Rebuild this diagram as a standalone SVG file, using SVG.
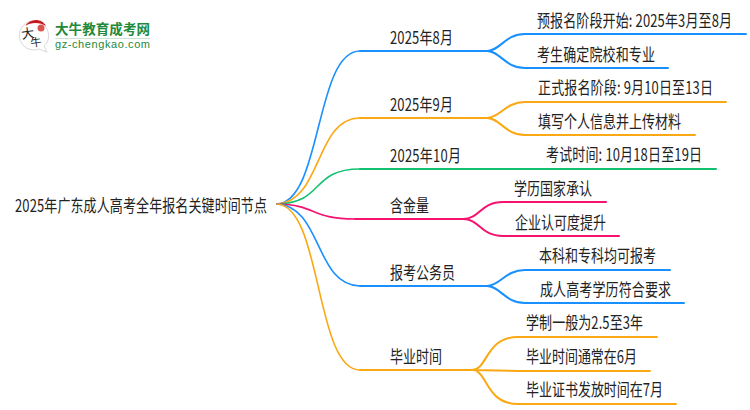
<svg xmlns="http://www.w3.org/2000/svg" width="750" height="410" viewBox="0 0 750 410">
<style>
text{font-family:"Noto Sans CJK SC","Liberation Sans",sans-serif;font-size:13px;fill:#222}
.c path{fill:none;stroke-width:2;stroke-linecap:round}
.r{stroke-width:1.6!important}
.b{stroke:#1890ff}.o{stroke:#faa814}.g{stroke:#12c170}.p{stroke:#f5136f}
</style>
<rect width="750" height="410" fill="#fff"/>
<g id="connectors" class="c">
<path class="b r" d="M277 204C322 202 315 51 360 51"/><path class="b" d="M360 51H487C500 51 505 34 525 34H746M487 51C500 51 505 68 525 68H668"/>
<path class="o r" d="M277 204C322 202 315 118 360 118"/><path class="o" d="M360 118H487C500 118 505 102 525 102H726M487 118C500 118 505 135 525 135H695"/>
<path class="g r" d="M277 204C325 203 310 169 360 169"/><path class="g" d="M360 169H520L716 169"/>
<path class="p r" d="M277 204C318 205 310 219 355 219"/><path class="p" d="M355 219H463C480 219 480 202 503 202H606M463 219C480 219 480 236 503 236H619"/>
<path class="b r" d="M277 204C322 206 315 286 360 286"/><path class="b" d="M360 286H487C500 286 505 270 525 270H670M487 286C500 286 505 303 525 303H684"/>
<path class="o r" d="M277 204C322 206 315 370 360 370"/><path class="o" d="M360 370H472C488 370 485 337 518 337H657M472 370L518 371H650M472 370C488 370 485 404 518 404H676"/>
</g>
<g id="logo">
<path d="M35 21A14.500 14.500 0 1 0 39 49L47 52L44 46A14.500 14.500 0 0 0 35 21Z" fill="#fff" stroke="#d8d8d8"/>
<path d="M25 26C30 18 42 18 46 26C40 22 31 22 25 26Z" fill="#c8161d"/>
<circle cx="41" cy="28" r="3.500" fill="#d9534f"/>
<text transform="translate(22,39) rotate(-8)" style="font-size:13px;fill:#222">大</text>
<text transform="translate(31,47) rotate(-8)" style="font-size:11px;fill:#222">牛</text>
<text x="55" y="34" textLength="95" style="font-size:13.500px;font-weight:700;fill:#1f8a3c">大牛教育成考网</text>
<path d="M55 38.500H150" stroke="#cfe3d3"/>
<text x="55" y="48" textLength="95" style="font-family:'Liberation Sans',sans-serif;font-size:11px;fill:#1f8a3c">gz-chengkao.com</text>
</g>
<g id="root"><text transform="translate(15,212) scale(1,1.35)" textLength="252">2025年广东成人高考全年报名关键时间节点</text></g>
<g id="n1"><text transform="translate(390,44) scale(1,1.35)" textLength="63">2025年8月</text></g>
<g id="n2"><text transform="translate(390,111) scale(1,1.35)" textLength="63">2025年9月</text></g>
<g id="n3"><text transform="translate(390,162) scale(1,1.35)" textLength="71">2025年10月</text></g>
<g id="n4"><text transform="translate(390,212) scale(1,1.35)" textLength="39">含金量</text></g>
<g id="n5"><text transform="translate(390,279) scale(1,1.35)" textLength="65">报考公务员</text></g>
<g id="n6"><text transform="translate(390,363) scale(1,1.35)" textLength="52">毕业时间</text></g>
<g id="n11"><text transform="translate(537,27) scale(1,1.35)" textLength="195">预报名阶段开始: 2025年3月至8月</text></g>
<g id="n12"><text transform="translate(537,61) scale(1,1.35)" textLength="118">考生确定院校和专业</text></g>
<g id="n21"><text transform="translate(538,94) scale(1,1.35)" textLength="175">正式报名阶段: 9月10日至13日</text></g>
<g id="n22"><text transform="translate(538,128) scale(1,1.35)" textLength="143">填写个人信息并上传材料</text></g>
<g id="n31"><text transform="translate(546,161) scale(1,1.35)" textLength="156">考试时间: 10月18日至19日</text></g>
<g id="n41"><text transform="translate(514,195) scale(1,1.35)" textLength="78">学历国家承认</text></g>
<g id="n42"><text transform="translate(515,229) scale(1,1.35)" textLength="91">企业认可度提升</text></g>
<g id="n51"><text transform="translate(539,262) scale(1,1.35)" textLength="117">本科和专科均可报考</text></g>
<g id="n52"><text transform="translate(540,296) scale(1,1.35)" textLength="131">成人高考学历符合要求</text></g>
<g id="n61"><text transform="translate(526,329) scale(1,1.35)" textLength="117">学制一般为2.5至3年</text></g>
<g id="n62"><text transform="translate(526,363) scale(1,1.35)" textLength="111">毕业时间通常在6月</text></g>
<g id="n63"><text transform="translate(526,396) scale(1,1.35)" textLength="137">毕业证书发放时间在7月</text></g>
</svg>
